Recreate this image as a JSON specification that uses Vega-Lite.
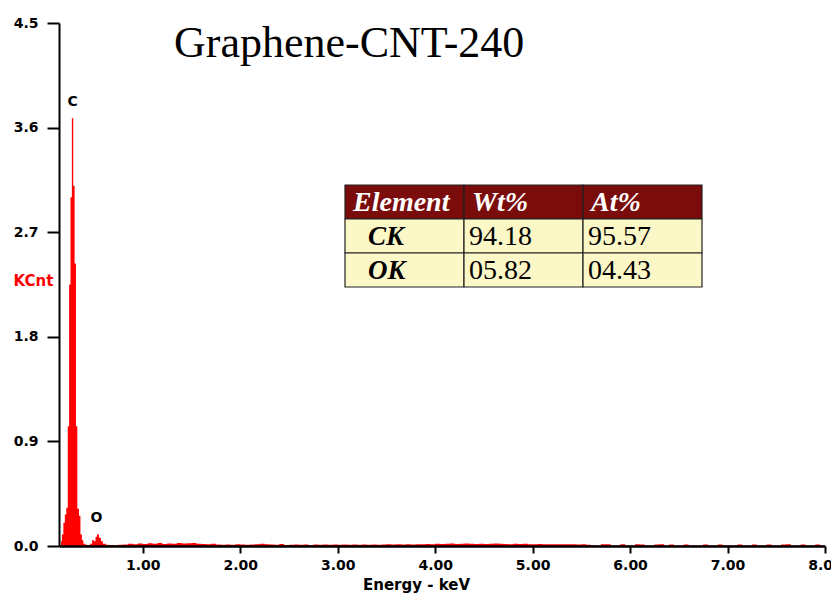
{
  "$schema": "https://vega.github.io/schema/vega-lite/v6.json",
  "width": 766,
  "height": 523,
  "autosize": {"type": "none"},
  "padding": {"left": 59, "top": 23, "right": 6, "bottom": 48},
  "background": "white",
  "config": {"view": {"stroke": null}},
  "title": {
    "text": "Graphene-CNT-240",
    "font": "Liberation Serif",
    "fontSize": 44,
    "fontWeight": "normal",
    "color": "black",
    "anchor": "start",
    "orient": "top",
    "baseline": "alphabetic",
    "offset": -40,
    "dx": 161,
    "dy": 45
  },
  "datasets": {
    "spectrum": [
      {"energy": 0.14, "kcnt": 0},
      {"energy": 0.16, "kcnt": 0.04},
      {"energy": 0.17, "kcnt": 0.1},
      {"energy": 0.185, "kcnt": 0.2},
      {"energy": 0.2, "kcnt": 0.27},
      {"energy": 0.215, "kcnt": 0.33},
      {"energy": 0.23, "kcnt": 1.03},
      {"energy": 0.244, "kcnt": 2.25},
      {"energy": 0.258, "kcnt": 3.0},
      {"energy": 0.272, "kcnt": 3.68},
      {"energy": 0.286, "kcnt": 3.1},
      {"energy": 0.3, "kcnt": 2.43},
      {"energy": 0.314, "kcnt": 1.03},
      {"energy": 0.328, "kcnt": 0.32},
      {"energy": 0.345, "kcnt": 0.26},
      {"energy": 0.36, "kcnt": 0.1},
      {"energy": 0.375, "kcnt": 0.05},
      {"energy": 0.39, "kcnt": 0.02},
      {"energy": 0.41, "kcnt": 0.01},
      {"energy": 0.43, "kcnt": 0.008},
      {"energy": 0.46, "kcnt": 0.02},
      {"energy": 0.48, "kcnt": 0.05},
      {"energy": 0.5, "kcnt": 0.04},
      {"energy": 0.515, "kcnt": 0.08},
      {"energy": 0.53, "kcnt": 0.1},
      {"energy": 0.55, "kcnt": 0.07},
      {"energy": 0.57, "kcnt": 0.04},
      {"energy": 0.59, "kcnt": 0.02},
      {"energy": 0.62, "kcnt": 0.01},
      {"energy": 0.65, "kcnt": 0.008},
      {"energy": 0.7, "kcnt": 0.006},
      {"energy": 0.75, "kcnt": 0.01},
      {"energy": 0.8, "kcnt": 0.012},
      {"energy": 0.85, "kcnt": 0.02},
      {"energy": 0.9, "kcnt": 0.016},
      {"energy": 0.95, "kcnt": 0.022},
      {"energy": 1.0, "kcnt": 0.018},
      {"energy": 1.05, "kcnt": 0.024},
      {"energy": 1.1, "kcnt": 0.02},
      {"energy": 1.15, "kcnt": 0.025},
      {"energy": 1.2, "kcnt": 0.018},
      {"energy": 1.25, "kcnt": 0.022},
      {"energy": 1.3, "kcnt": 0.02},
      {"energy": 1.35, "kcnt": 0.026},
      {"energy": 1.4, "kcnt": 0.022},
      {"energy": 1.45, "kcnt": 0.024},
      {"energy": 1.5, "kcnt": 0.025},
      {"energy": 1.55, "kcnt": 0.02},
      {"energy": 1.6, "kcnt": 0.018},
      {"energy": 1.65, "kcnt": 0.014},
      {"energy": 1.7, "kcnt": 0.02},
      {"energy": 1.75, "kcnt": 0.012},
      {"energy": 1.8, "kcnt": 0.01},
      {"energy": 1.85, "kcnt": 0.012},
      {"energy": 1.9, "kcnt": 0.01},
      {"energy": 1.95, "kcnt": 0.014},
      {"energy": 2.0, "kcnt": 0.012},
      {"energy": 2.05, "kcnt": 0.01},
      {"energy": 2.1, "kcnt": 0.012},
      {"energy": 2.15, "kcnt": 0.016},
      {"energy": 2.2, "kcnt": 0.02},
      {"energy": 2.25, "kcnt": 0.014},
      {"energy": 2.3, "kcnt": 0.012},
      {"energy": 2.35, "kcnt": 0.01},
      {"energy": 2.4, "kcnt": 0.018},
      {"energy": 2.45, "kcnt": 0.008},
      {"energy": 2.5, "kcnt": 0.01},
      {"energy": 2.55, "kcnt": 0.012},
      {"energy": 2.6, "kcnt": 0.01},
      {"energy": 2.65, "kcnt": 0.012},
      {"energy": 2.7, "kcnt": 0.008},
      {"energy": 2.75, "kcnt": 0.012},
      {"energy": 2.8, "kcnt": 0.01},
      {"energy": 2.85, "kcnt": 0.012},
      {"energy": 2.9, "kcnt": 0.01},
      {"energy": 2.95, "kcnt": 0.012},
      {"energy": 3.0, "kcnt": 0.01},
      {"energy": 3.05, "kcnt": 0.012},
      {"energy": 3.1, "kcnt": 0.01},
      {"energy": 3.15, "kcnt": 0.012},
      {"energy": 3.2, "kcnt": 0.01},
      {"energy": 3.25, "kcnt": 0.012},
      {"energy": 3.3, "kcnt": 0.01},
      {"energy": 3.35, "kcnt": 0.012},
      {"energy": 3.4, "kcnt": 0.01},
      {"energy": 3.45, "kcnt": 0.012},
      {"energy": 3.5, "kcnt": 0.016},
      {"energy": 3.55, "kcnt": 0.012},
      {"energy": 3.6, "kcnt": 0.014},
      {"energy": 3.65, "kcnt": 0.012},
      {"energy": 3.7, "kcnt": 0.016},
      {"energy": 3.75, "kcnt": 0.012},
      {"energy": 3.8, "kcnt": 0.014},
      {"energy": 3.85, "kcnt": 0.016},
      {"energy": 3.9, "kcnt": 0.018},
      {"energy": 3.95, "kcnt": 0.016},
      {"energy": 4.0, "kcnt": 0.02},
      {"energy": 4.05, "kcnt": 0.018},
      {"energy": 4.1, "kcnt": 0.02},
      {"energy": 4.15, "kcnt": 0.022},
      {"energy": 4.2, "kcnt": 0.018},
      {"energy": 4.25, "kcnt": 0.02},
      {"energy": 4.3, "kcnt": 0.022},
      {"energy": 4.35, "kcnt": 0.02},
      {"energy": 4.4, "kcnt": 0.018},
      {"energy": 4.45, "kcnt": 0.02},
      {"energy": 4.5, "kcnt": 0.018},
      {"energy": 4.55, "kcnt": 0.02},
      {"energy": 4.6, "kcnt": 0.022},
      {"energy": 4.65, "kcnt": 0.02},
      {"energy": 4.7, "kcnt": 0.018},
      {"energy": 4.75, "kcnt": 0.016},
      {"energy": 4.8, "kcnt": 0.02},
      {"energy": 4.85, "kcnt": 0.018},
      {"energy": 4.9, "kcnt": 0.02},
      {"energy": 4.95, "kcnt": 0.014},
      {"energy": 5.0, "kcnt": 0.016},
      {"energy": 5.05, "kcnt": 0.018},
      {"energy": 5.1, "kcnt": 0.014},
      {"energy": 5.15, "kcnt": 0.016},
      {"energy": 5.2, "kcnt": 0.014},
      {"energy": 5.25, "kcnt": 0.016},
      {"energy": 5.3, "kcnt": 0.014},
      {"energy": 5.35, "kcnt": 0.016},
      {"energy": 5.4, "kcnt": 0.014},
      {"energy": 5.45, "kcnt": 0.012},
      {"energy": 5.5, "kcnt": 0.016},
      {"energy": 5.55, "kcnt": 0.01},
      {"energy": 5.6, "kcnt": 0.006},
      {"energy": 5.65, "kcnt": 0.004},
      {"energy": 5.7, "kcnt": 0.014},
      {"energy": 5.75, "kcnt": 0.016},
      {"energy": 5.8, "kcnt": 0.004},
      {"energy": 5.85, "kcnt": 0.004},
      {"energy": 5.9, "kcnt": 0.014},
      {"energy": 5.95, "kcnt": 0.004},
      {"energy": 6.0, "kcnt": 0.004},
      {"energy": 6.05, "kcnt": 0.014},
      {"energy": 6.1, "kcnt": 0.012},
      {"energy": 6.15, "kcnt": 0.004},
      {"energy": 6.2, "kcnt": 0.004},
      {"energy": 6.25, "kcnt": 0.012},
      {"energy": 6.3, "kcnt": 0.014},
      {"energy": 6.35, "kcnt": 0.004},
      {"energy": 6.4, "kcnt": 0.012},
      {"energy": 6.45, "kcnt": 0.004},
      {"energy": 6.5, "kcnt": 0.004},
      {"energy": 6.55, "kcnt": 0.012},
      {"energy": 6.6, "kcnt": 0.004},
      {"energy": 6.65, "kcnt": 0.004},
      {"energy": 6.7, "kcnt": 0.004},
      {"energy": 6.75, "kcnt": 0.012},
      {"energy": 6.8, "kcnt": 0.004},
      {"energy": 6.85, "kcnt": 0.004},
      {"energy": 6.9, "kcnt": 0.012},
      {"energy": 6.95, "kcnt": 0.004},
      {"energy": 7.0, "kcnt": 0.004},
      {"energy": 7.05, "kcnt": 0.004},
      {"energy": 7.1, "kcnt": 0.012},
      {"energy": 7.15, "kcnt": 0.004},
      {"energy": 7.2, "kcnt": 0.004},
      {"energy": 7.25, "kcnt": 0.012},
      {"energy": 7.3, "kcnt": 0.004},
      {"energy": 7.35, "kcnt": 0.004},
      {"energy": 7.4, "kcnt": 0.012},
      {"energy": 7.45, "kcnt": 0.004},
      {"energy": 7.5, "kcnt": 0.004},
      {"energy": 7.55, "kcnt": 0.012},
      {"energy": 7.6, "kcnt": 0.014},
      {"energy": 7.65, "kcnt": 0.004},
      {"energy": 7.7, "kcnt": 0.004},
      {"energy": 7.75, "kcnt": 0.012},
      {"energy": 7.8, "kcnt": 0.004},
      {"energy": 7.85, "kcnt": 0.004},
      {"energy": 7.9, "kcnt": 0.012},
      {"energy": 7.95, "kcnt": 0.004},
      {"energy": 8.0, "kcnt": 0}
    ],
    "peaks": [
      {"label": "C", "energy": 0.279, "kcnt": 3.68},
      {"label": "O", "energy": 0.525, "kcnt": 0.1}
    ],
    "table": [
      {"row": "header", "col": "Element", "text": "Element"},
      {"row": "header", "col": "Wt%", "text": "Wt%"},
      {"row": "header", "col": "At%", "text": "At%"},
      {"row": "CK", "col": "Element", "text": "CK"},
      {"row": "CK", "col": "Wt%", "text": "94.18"},
      {"row": "CK", "col": "At%", "text": "95.57"},
      {"row": "OK", "col": "Element", "text": "OK"},
      {"row": "OK", "col": "Wt%", "text": "05.82"},
      {"row": "OK", "col": "At%", "text": "04.43"}
    ]
  },
  "layer": [
    {
      "layer": [
        {
          "data": {"name": "spectrum"},
          "mark": {"type": "area", "interpolate": "step-after", "color": "#ff0000", "clip": true},
          "encoding": {
            "x": {
              "field": "energy",
              "type": "quantitative",
              "scale": {"domain": [0.14, 8.0], "nice": false, "zero": false},
              "axis": {
                "values": [1, 2, 3, 4, 5, 6, 7, 8],
                "format": ".2f",
                "title": "Energy - keV",
                "titleFont": "DejaVu Sans",
                "titleFontSize": 15,
                "titleFontWeight": "bold",
                "titleColor": "black",
                "titleX": 357,
                "titleY": 38,
                "titleAlign": "center",
                "titleBaseline": "middle",
                "labelFont": "DejaVu Sans",
                "labelFontSize": 14,
                "labelFontWeight": "bold",
                "labelColor": "black",
                "labelPadding": 5,
                "labelFlush": false,
                "tickSize": 7,
                "tickWidth": 2,
                "tickColor": "black",
                "domainColor": "black",
                "domainWidth": 2.5,
                "grid": false,
                "zindex": 1
              }
            },
            "y": {
              "field": "kcnt",
              "type": "quantitative",
              "scale": {"domain": [0, 4.5], "nice": false},
              "axis": {
                "values": [0, 0.9, 1.8, 2.7, 3.6, 4.5],
                "format": ".1f",
                "title": "KCnt",
                "titleAngle": 0,
                "titleFont": "DejaVu Sans",
                "titleFontSize": 15,
                "titleFontWeight": "bold",
                "titleColor": "#ff0000",
                "titleAlign": "left",
                "titleBaseline": "middle",
                "titleX": -46,
                "titleY": 257,
                "labelFont": "DejaVu Sans",
                "labelFontSize": 14,
                "labelFontWeight": "bold",
                "labelColor": "black",
                "labelPadding": 9,
                "labelFlush": false,
                "tickSize": 12,
                "tickWidth": 2,
                "tickColor": "black",
                "domainColor": "black",
                "domainWidth": 2,
                "grid": false,
                "zindex": 1
              }
            }
          }
        },
        {
          "data": {"name": "peaks"},
          "mark": {"type": "text", "font": "DejaVu Sans", "fontSize": 14, "fontWeight": "bold", "color": "black", "baseline": "middle", "align": "center", "dy": -16},
          "encoding": {
            "x": {"field": "energy", "type": "quantitative"},
            "y": {"field": "kcnt", "type": "quantitative"},
            "text": {"field": "label"}
          }
        }
      ]
    },
    {
      "data": {"name": "table"},
      "encoding": {
        "x": {
          "field": "col",
          "type": "nominal",
          "scale": {"domain": ["Element", "Wt%", "At%"], "range": [286, 643], "paddingInner": 0, "paddingOuter": 0},
          "axis": null
        },
        "y": {
          "field": "row",
          "type": "nominal",
          "scale": {"domain": ["header", "CK", "OK"], "range": [162, 264], "paddingInner": 0, "paddingOuter": 0},
          "axis": null
        }
      },
      "layer": [
        {
          "mark": {"type": "rect", "stroke": "#222222", "strokeWidth": 1.2},
          "encoding": {
            "fill": {
              "condition": {"test": "datum.row === 'header'", "value": "#7a0c0c"},
              "value": "#fbf7c6"
            }
          }
        },
        {
          "transform": [{"filter": "datum.row === 'header'"}],
          "mark": {"type": "text", "font": "Liberation Serif", "fontSize": 28, "fontWeight": "bold", "fontStyle": "italic", "color": "white", "align": "left", "baseline": "middle", "dx": 8, "dy": 1},
          "encoding": {
            "x": {"field": "col", "type": "nominal", "bandPosition": 0},
            "text": {"field": "text"}
          }
        },
        {
          "transform": [{"filter": "datum.row !== 'header' && datum.col === 'Element'"}],
          "mark": {"type": "text", "font": "Liberation Serif", "fontSize": 27, "fontWeight": "bold", "fontStyle": "italic", "color": "black", "align": "left", "baseline": "middle", "dx": 23, "dy": 1},
          "encoding": {
            "x": {"field": "col", "type": "nominal", "bandPosition": 0},
            "text": {"field": "text"}
          }
        },
        {
          "transform": [{"filter": "datum.row !== 'header' && datum.col !== 'Element'"}],
          "mark": {"type": "text", "font": "Liberation Serif", "fontSize": 28, "fontWeight": "normal", "color": "black", "align": "left", "baseline": "middle", "dx": 5, "dy": 1},
          "encoding": {
            "x": {"field": "col", "type": "nominal", "bandPosition": 0},
            "text": {"field": "text"}
          }
        }
      ]
    }
  ],
  "resolve": {"scale": {"x": "independent", "y": "independent"}}
}
